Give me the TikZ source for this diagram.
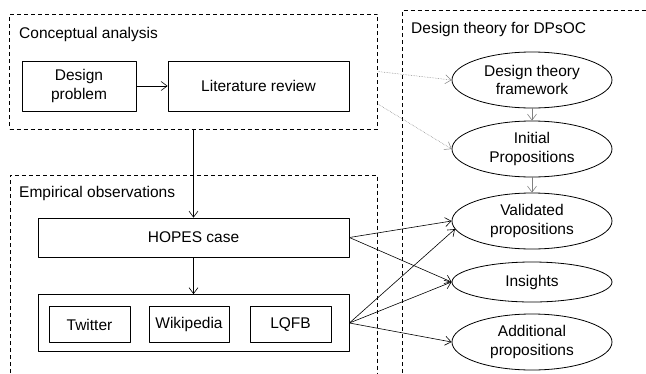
\documentclass[tikz,border=0pt]{standalone}
\usepackage{fontspec}
\setmainfont{Liberation Sans}
\usetikzlibrary{shapes.geometric,arrows.meta}
\begin{document}
\begin{tikzpicture}[x=1pt, y=-1pt, font=\fontsize{15.5}{18.5}\selectfont, line join=round, >={Straight Barb[length=6pt,width=9pt]},
	box/.style={draw, line width=0.8pt, minimum height=#1, inner sep=0pt, align=center},
	oval/.style={draw, ellipse, line width=0.8pt, minimum width=160, minimum height=#1, inner sep=0pt, align=center},
	group/.style={draw, dash pattern=on 4pt off 3pt, line width=0.7pt},
	title/.style={anchor=west, inner sep=0pt},
	flow/.style={->, line width=0.6pt}]
	\clip (0,0) rectangle (646,373);
	% frames
	\node[group, minimum width=368, minimum height=115, inner sep=0pt] (concept) at (193.5,71.5) {};
	\draw[group] (10,380)--(10,175)--(377.5,175)--(377.5,380);
	\draw[group] (402.5,380)--(402.5,10)--(650,10);
	\node[title] (cat) at (19,34) {Conceptual analysis};
	\node[title] (eot) at (19,193) {Empirical observations};
	\node[title] (dtt) at (411,29) {Design theory for DPsOC};
	% left side
	\node[box=50, minimum width=114] (dp) at (79,86) {Design\\problem};
	\node[box=50, minimum width=181] (lr) at (258.5,86) {Literature review};
	\node[box=39, minimum width=311] (hopes) at (193.5,237.5) {HOPES case};
	\node[box=57, minimum width=311] (tools) at (193.5,323) {};
	\node[box=36, minimum width=81] (tw) at (89.5,324.5) {Twitter};
	\node[box=36, minimum width=80] (wiki) at (189,324.5) {Wikipedia};
	\node[box=36, minimum width=81] (lqfb) at (290.5,324.5) {LQFB};
	% right side
	\node[oval=56] (dtf) at (532,80) {Design theory\\framework};
	\node[oval=56] (ip) at (532,149) {Initial\\Propositions};
	\node[oval=56] (vp) at (532,221) {Validated\\propositions};
	\node[oval=40] (ins) at (532,282) {Insights};
	\node[oval=56] (ap) at (532,342) {Additional\\propositions};
	% connectors
	\draw[flow] (dp)--(lr);
	\draw[flow] (concept.south)--(hopes.north);
	\draw[flow] (hopes)--(tools);
	\draw[flow, gray] (dtf)--(ip);
	\draw[flow, gray] (ip)--(vp);
	\draw[flow, gray, densely dotted, line width=0.5pt] (concept.east)--(dtf.west);
	\draw[flow, gray, densely dotted, line width=0.5pt] (concept.350)--(ip.west);
	\draw[flow] (hopes.east)--(vp.west);
	\draw[flow] (hopes.east)--(ins.west);
	\draw[flow] (tools.east)--(vp.186);
	\draw[flow] (tools.east)--(ins.west);
	\draw[flow] (tools.east)--(ap.west);
\end{tikzpicture}
\end{document}
